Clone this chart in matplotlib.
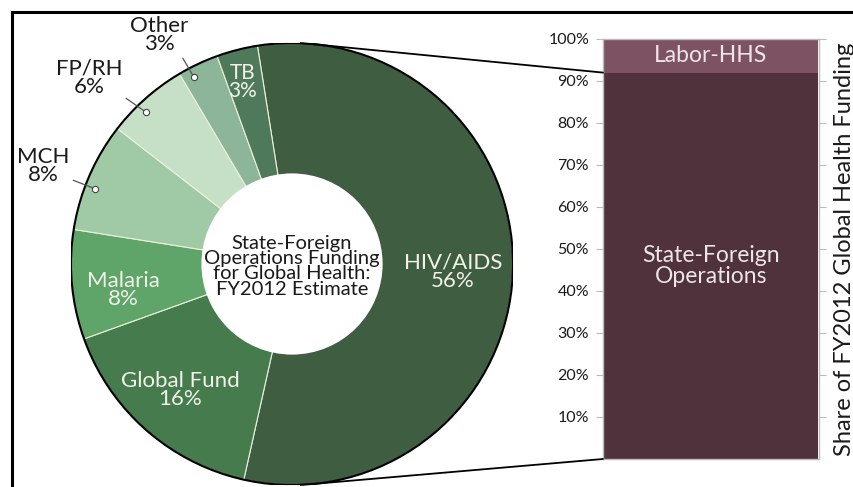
import numpy as np
import matplotlib
matplotlib.use('Agg')
import matplotlib.pyplot as plt
from matplotlib.patches import Circle, Rectangle, ConnectionPatch

plt.rcParams['font.family'] = ['Lato', 'DejaVu Sans']

# pie data (clockwise from the top)
labels = ['HIV/AIDS', 'Global Fund', 'Malaria', 'MCH', 'FP/RH', 'Other', 'TB']
shares = [56, 16, 8, 8, 6, 3, 3]
colors = ['#3F5E41', '#467B4E', '#5FA469', '#A0CAA5', '#C6E0C7', '#8DB59A', '#4E7A5B']

# bar data
bar_names = ['State-Foreign\nOperations', 'Labor-HHS']
bar_shares = [92, 8]
bar_colors = ['#4F323C', '#7D5262']
yticks = [10, 20, 30, 40, 50, 60, 70, 80, 90, 100]

fig = plt.figure(figsize=(8.54, 4.87), dpi=100)

# ---- donut ----
ax = fig.add_axes([71/854, 2/487, 442/854, 442/487])
wedges, _ = ax.pie(shares, colors=colors, startangle=99, counterclock=False,
                   radius=1.0, wedgeprops=dict(edgecolor='#EDF0DA', linewidth=0.8))
ax.add_patch(Circle((0, 0), 1.0, fill=False, edgecolor='black', lw=1.5, zorder=5))
ax.add_patch(Circle((0, 0), 0.41, facecolor='white', edgecolor='none', zorder=6))
ax.set_xlim(-1, 1)
ax.set_ylim(-1, 1)
ax.set_aspect('equal')
ax.axis('off')

ax.text(0.0, -0.01, 'State-Foreign\nOperations Funding\nfor Global Health:\nFY2012 Estimate',
        ha='center', va='center', fontsize=14.5, color='#1a1a1a', linespacing=0.88, zorder=7)

inside = {'HIV/AIDS': (0.729, -0.036), 'Global Fund': (-0.507, -0.57),
          'Malaria': (-0.762, -0.118), 'TB': (-0.222, 0.824)}
for w, name, pct in zip(wedges, labels, shares):
    if name in inside:
        fs = 15 if name == 'TB' else 16
        ax.text(*inside[name], f'{name}\n{pct}%', ha='center', va='center',
                fontsize=fs, color='#F2F2E6', linespacing=0.92, zorder=7)

outside = {'MCH': ((-1.127, 0.443), (0.95, 0.2)),
           'FP/RH': ((-0.919, 0.842), (0.95, 0.1)),
           'Other': ((-0.602, 1.036), (0.85, 0.05))}
for w, name, pct in zip(wedges, labels, shares):
    if name in outside:
        pos, rel = outside[name]
        mid = np.deg2rad((w.theta1 + w.theta2) / 2 + 2.5)
        dot = (0.955 * np.cos(mid), 0.955 * np.sin(mid))
        ax.annotate(f'{name}\n{pct}%', xy=dot, xytext=pos, ha='center', va='center',
                    fontsize=16, color='#1a1a1a', linespacing=0.9, annotation_clip=False,
                    arrowprops=dict(arrowstyle='-', color='#555555', lw=0.9,
                                    shrinkA=1, shrinkB=0, relpos=rel), zorder=8)
        ax.plot(*dot, 'o', ms=4.5, mfc='white', mec='#444444', mew=0.8, zorder=9)

# ---- stacked bar ----
bx = fig.add_axes([603/854, 28/487, 216/854, 420/487])
bottom = 0
for name, val, c in zip(bar_names, bar_shares, bar_colors):
    bx.bar(0, val, width=0.99, bottom=bottom, color=c, edgecolor='none')
    bx.text(0, bottom + val / 2, name, ha='center', va='center', fontsize=16.5,
            color='#EDE6E8', linespacing=1.0)
    bottom += val
bx.set_xlim(-0.5, 0.5)
bx.set_ylim(0, 100)
bx.set_xticks([])
bx.set_yticks(yticks)
bx.set_yticklabels([f'{t}%' for t in yticks], fontsize=11.5, color='#1a1a1a')
bx.tick_params(axis='y', which='both', left=True, right=True, direction='out',
               length=5, color='#BBBBBB', pad=5)
for s in bx.spines.values():
    s.set_color('#BBBBBB')
    s.set_linewidth(1)
bx.yaxis.set_label_position('right')
bx.set_ylabel('Share of FY2012 Global Health Funding', fontsize=17,
              color='#1a1a1a', labelpad=6)

# connector lines between donut and bar
for a, b in [((0.04, 1.0), (-0.5, 92)), ((0.04, -1.0), (-0.5, 0))]:
    con = ConnectionPatch(xyA=a, coordsA=ax.transData, xyB=b, coordsB=bx.transData,
                          color='black', lw=1.3, zorder=10)
    fig.add_artist(con)

# frame around the figure panel
fig.add_artist(Rectangle((12/854, -0.2), 1.2, 0.2 + 475/487, transform=fig.transFigure,
                         fill=False, edgecolor='black', lw=2.2))

fig.savefig('out.png', dpi=100)
